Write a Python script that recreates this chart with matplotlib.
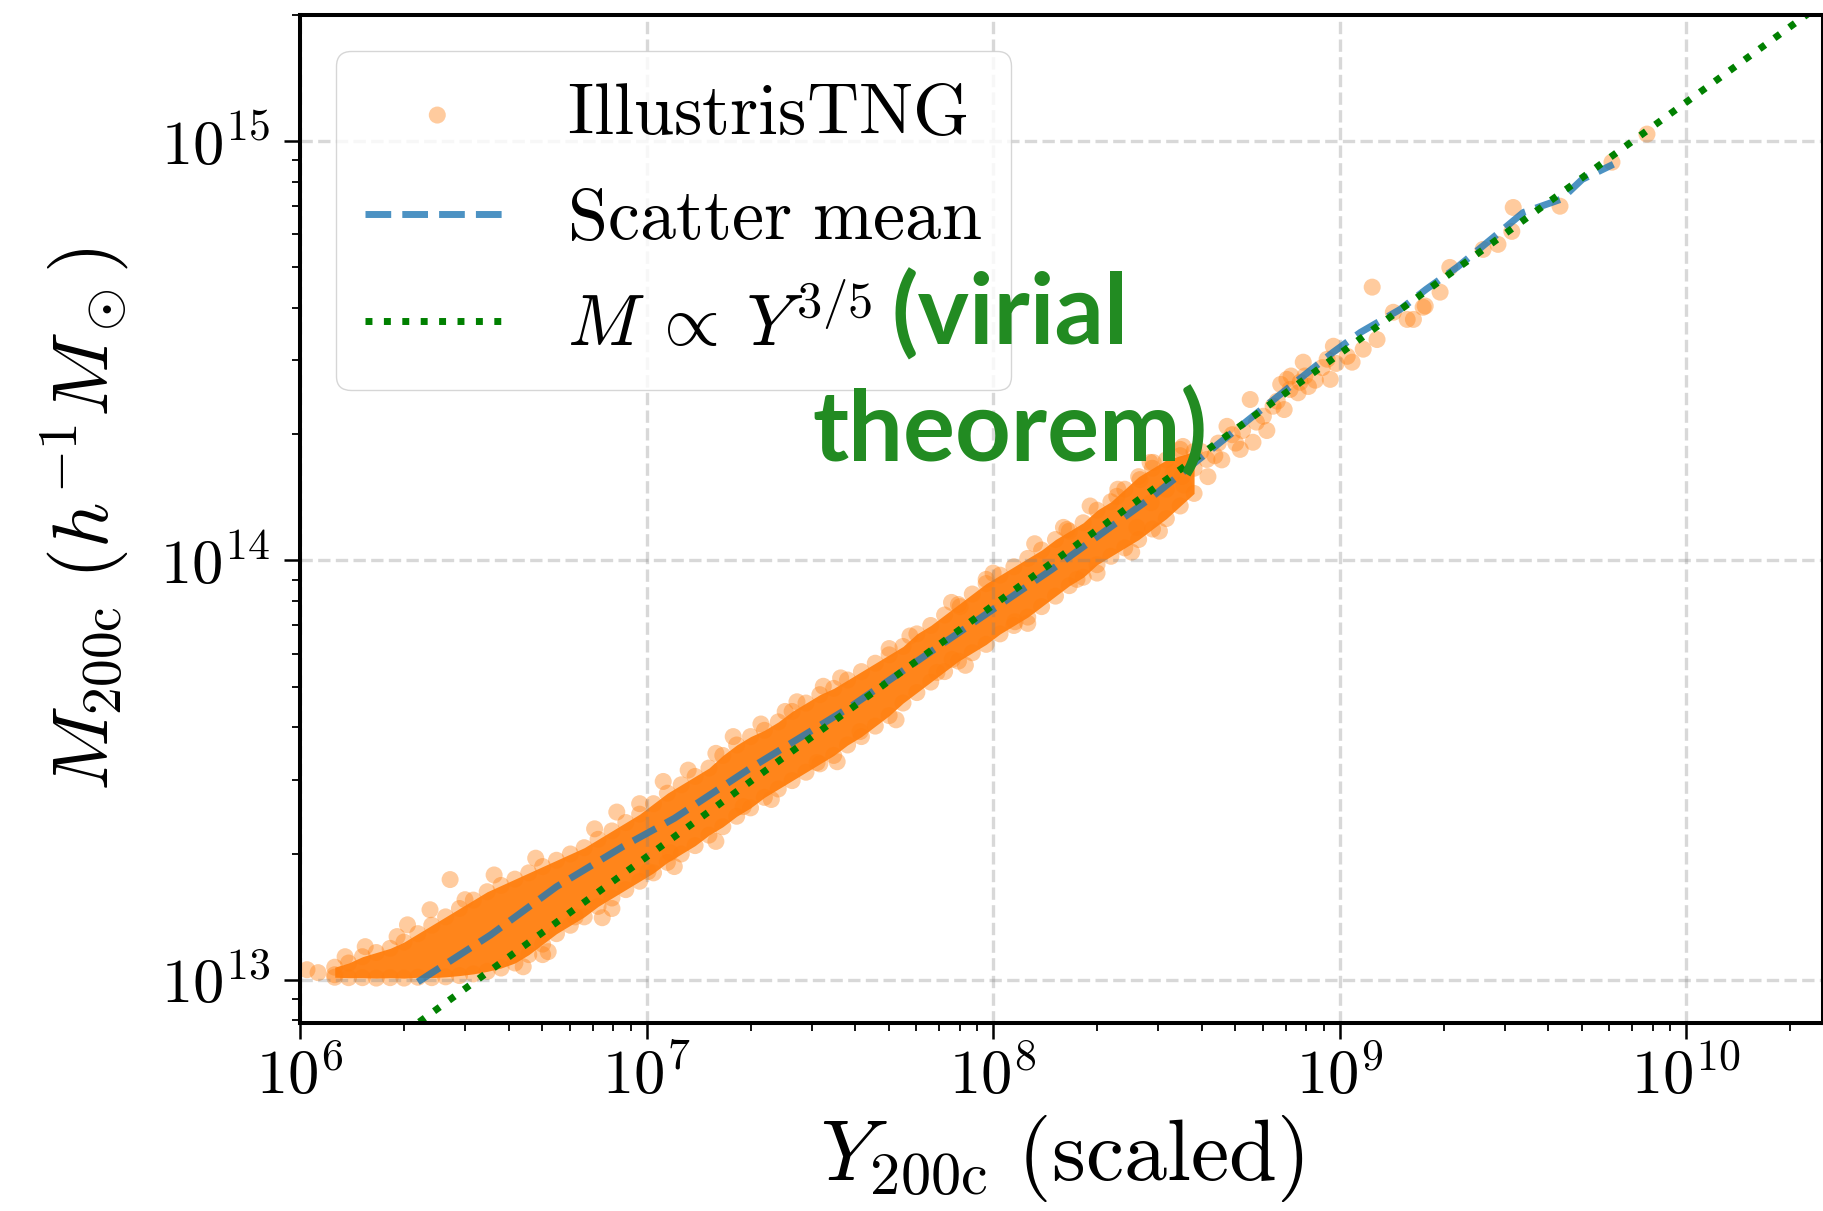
import numpy as np
import matplotlib
matplotlib.use("Agg")
import matplotlib.pyplot as plt
from matplotlib.ticker import FuncFormatter, NullFormatter

plt.rcParams['mathtext.fontset'] = 'cm'

# dense core of the cloud: log10 Y, lower / upper edge (log10 M) of the solid band
core_logy = [6.10, 6.14, 6.18, 6.22, 6.26, 6.30, 6.34, 6.38, 6.42, 6.46,
             6.50, 6.54, 6.58, 6.62, 6.66, 6.70, 6.74, 6.78, 6.82, 6.86,
             6.90, 6.94, 6.98, 7.02, 7.06, 7.10, 7.14, 7.18, 7.22, 7.26,
             7.30, 7.34, 7.38, 7.42, 7.46, 7.50, 7.54, 7.58, 7.62, 7.66,
             7.70, 7.74, 7.78, 7.82, 7.86, 7.90, 7.94, 7.98, 8.02, 8.06,
             8.10, 8.14, 8.18, 8.22, 8.26, 8.30, 8.34, 8.38, 8.42, 8.46,
             8.50, 8.54, 8.58]
core_lo = [13.006, 13.005, 13.005, 13.004, 13.005, 13.004, 13.006, 13.005, 13.007, 13.010,
           13.014, 13.020, 13.028, 13.040, 13.060, 13.085, 13.110, 13.130, 13.150, 13.175,
           13.195, 13.215, 13.235, 13.255, 13.280, 13.300, 13.320, 13.345, 13.365, 13.390,
           13.410, 13.435, 13.455, 13.475, 13.495, 13.515, 13.535, 13.560, 13.580, 13.605,
           13.630, 13.660, 13.685, 13.710, 13.735, 13.760, 13.780, 13.800, 13.825, 13.845,
           13.865, 13.890, 13.915, 13.940, 13.960, 13.990, 14.010, 14.030, 14.050, 14.075,
           14.100, 14.130, 14.160]
core_hi = [13.030, 13.040, 13.055, 13.065, 13.075, 13.090, 13.110, 13.130, 13.150, 13.170,
           13.190, 13.210, 13.225, 13.240, 13.255, 13.270, 13.285, 13.300, 13.315, 13.335,
           13.355, 13.375, 13.395, 13.420, 13.445, 13.465, 13.485, 13.505, 13.535, 13.560,
           13.580, 13.595, 13.615, 13.640, 13.660, 13.680, 13.695, 13.715, 13.735, 13.755,
           13.775, 13.795, 13.825, 13.845, 13.870, 13.895, 13.920, 13.945, 13.965, 13.985,
           14.005, 14.025, 14.050, 14.070, 14.090, 14.120, 14.140, 14.170, 14.200, 14.220,
           14.240, 14.250, 14.260]

# individual haloes off the core (log10 Y, log10 M)
halo_logy = [6.02, 6.052, 6.10, 6.13, 6.188, 6.28, 6.31, 6.375, 6.433, 6.476,
             6.644, 6.716, 6.794, 6.872, 7.004, 7.068, 6.914, 7.048, 7.25, 7.434,
             7.51, 7.279, 7.492, 7.616, 7.838, 7.882, 7.905, 7.98, 8.063, 8.203,
             8.213, 8.242, 8.415, 8.453, 8.456, 8.545, 8.548,
             6.56, 6.68, 6.85, 6.98, 7.12, 7.20, 7.33, 7.40, 7.56, 7.70,
             7.76, 7.88, 8.00, 8.12, 8.28, 8.36,
             6.70, 6.90, 7.08, 7.20, 7.36, 7.55, 7.72, 7.92, 8.10, 8.30, 8.40, 8.48,
             8.357, 8.424, 8.462, 8.50, 8.52, 8.54, 8.55, 8.58, 8.60, 8.617,
             8.62, 8.64, 8.65, 8.66, 8.675, 8.69, 8.70, 8.713, 8.72, 8.75,
             8.742, 8.76, 8.78, 8.79, 8.808, 8.82, 8.83, 8.84, 8.848, 8.857,
             8.86, 8.88, 8.886, 8.895, 8.90, 8.91, 8.93, 8.95, 8.973, 8.964,
             8.982, 8.99, 9.022, 9.036, 9.068,
             9.108, 9.094, 9.155, 9.195, 9.213, 9.241, 9.247, 9.29, 9.318, 9.414,
             9.457, 9.497, 9.501, 9.636, 9.786, 9.887]
halo_logm = [13.024, 13.017, 13.012, 13.055, 13.079, 13.103, 13.131, 13.167, 13.239, 13.191,
             13.031, 13.067, 13.150, 13.148, 13.258, 13.303, 13.400, 13.473, 13.580, 13.663,
             13.700, 13.413, 13.518, 13.592, 13.733, 13.764, 13.890, 13.955, 13.854, 14.079,
             14.074, 13.955, 14.079, 14.234, 14.138, 14.200, 14.272,
             13.250, 13.290, 13.360, 13.420, 13.500, 13.540, 13.610, 13.640, 13.720, 13.790,
             13.820, 13.900, 13.970, 14.040, 14.130, 14.170,
             13.060, 13.170, 13.270, 13.330, 13.430, 13.520, 13.620, 13.750, 13.850, 13.970, 14.020, 14.070,
             14.153, 14.193, 14.234, 14.170, 14.210, 14.265, 14.180, 14.220, 14.260, 14.241,
             14.200, 14.250, 14.280, 14.240, 14.320, 14.300, 14.280, 14.265, 14.310, 14.282,
             14.384, 14.330, 14.344, 14.310, 14.368, 14.380, 14.420, 14.360, 14.432, 14.408,
             14.440, 14.400, 14.425, 14.473, 14.440, 14.415, 14.430, 14.460, 14.432, 14.480,
             14.511, 14.470, 14.487, 14.473, 14.504,
             14.527, 14.652, 14.592, 14.575, 14.575, 14.604, 14.607, 14.640, 14.699, 14.742,
             14.754, 14.785, 14.842, 14.845, 14.950, 15.017]

# binned mean of the scatter
mean_logy = [6.34, 6.55, 6.74, 6.93, 7.08, 7.30, 7.59, 7.83, 8.17, 8.45,
             8.98, 9.06, 9.175, 9.25, 9.34, 9.45, 9.53, 9.64, 9.70, 9.79]
mean_logm = [12.995, 13.107, 13.222, 13.317, 13.385, 13.505, 13.652, 13.788, 13.979, 14.146,
             14.496, 14.544, 14.599, 14.647, 14.700, 14.775, 14.830, 14.862, 14.909, 14.945]

# M ∝ Y^(3/5) reference line, end points
virial_logy = [6.0, 10.4]
virial_logm = [12.693, 15.333]

fig = plt.figure(figsize=(18.23, 12.11), dpi=100)
ax = fig.add_axes([0.1646, 0.1555, 0.8354, 0.8321])

orange = 'tab:orange'
cy = 10**np.array(core_logy)
ax.fill_between(cy, 10**np.array(core_lo), 10**np.array(core_hi),
                color=orange, alpha=0.95, lw=0, zorder=1)
pts_y = np.concatenate([core_logy, core_logy, halo_logy])
pts_m = np.concatenate([core_lo, core_hi, halo_logm])
ax.scatter(10**pts_y, 10**pts_m, s=150, color=orange, alpha=0.4,
           edgecolors='none', label=r'$\mathrm{IllustrisTNG}$', zorder=1)

ax.plot(10**np.array(mean_logy), 10**np.array(mean_logm), ls='--', lw=5,
        color='tab:blue', alpha=0.8, label=r'$\mathrm{Scatter\ mean}$')
ax.plot(10**np.array(virial_logy), 10**np.array(virial_logm), ls=':', lw=5,
        color='green', label=r'$M\:\propto\:Y^{3/5}$')

ax.set_xscale('log')
ax.set_yscale('log')
ax.set_xlim(1e6, 10**10.395)
ax.set_ylim(7.9e12, 2.0e15)

fmt = FuncFormatter(lambda v, p: r'$10^{%d}$' % int(round(np.log10(v))))
ax.xaxis.set_major_formatter(fmt)
ax.yaxis.set_major_formatter(fmt)
ax.xaxis.set_minor_formatter(NullFormatter())
ax.yaxis.set_minor_formatter(NullFormatter())

ax.tick_params(which='major', direction='out', length=11.5, width=1.8, labelsize=45)
ax.tick_params(which='minor', direction='out', length=5.8, width=1.3)
ax.tick_params(axis='x', which='major', pad=6)
ax.tick_params(axis='y', which='major', pad=10)
for s in ax.spines.values():
    s.set_linewidth(2.9)

ax.grid(True, which='major', ls='--', lw=2.4, color='gray', alpha=0.3)

ax.set_xlabel(r'$Y_{\rm 200c}\ (\mathrm{scaled})$', fontsize=62, labelpad=4)
ax.set_ylabel(r'$M_{\rm 200c}\ (h^{-1}M_\odot)$', fontsize=57, labelpad=22)

ax.legend(loc='upper left', fontsize=52)

fig.text(0.554, 0.692, '(virial\ntheorem)', ha='center', va='center',
         multialignment='center', fontsize=70, family='Lato', weight='bold',
         color='forestgreen', linespacing=1.33, zorder=10)

fig.savefig('out.png', dpi=100)
